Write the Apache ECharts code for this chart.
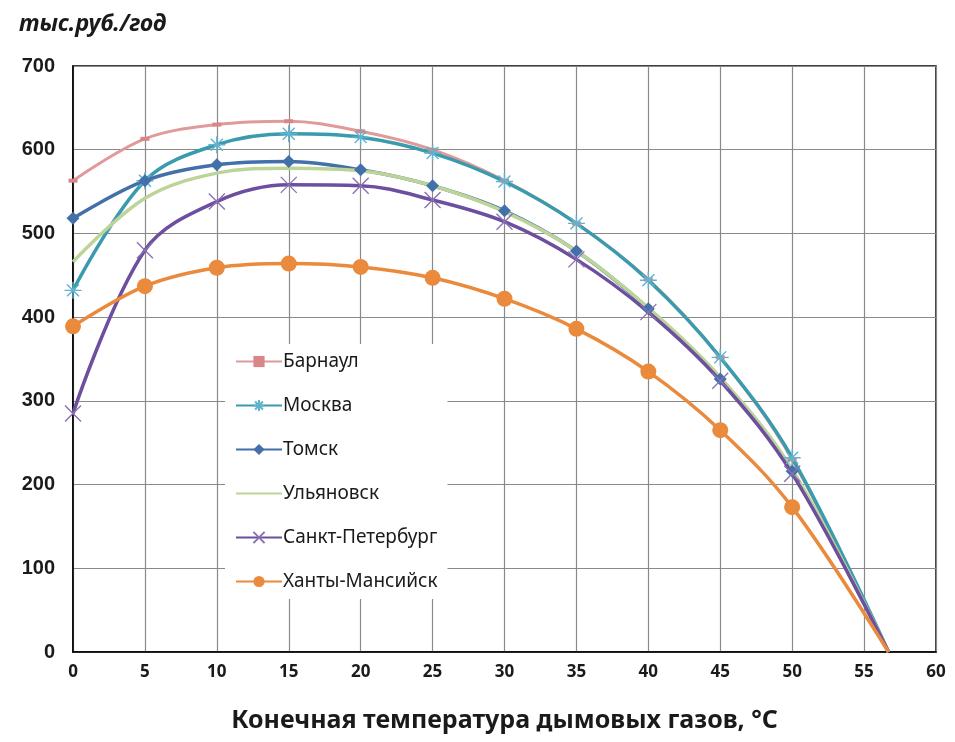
<!DOCTYPE html>
<html>
<head>
<meta charset="utf-8">
<script src="https://cdn.jsdelivr.net/npm/echarts@6/dist/echarts.min.js"></script>
<style>
  html, body { margin: 0; padding: 0; background: #fff; }
  #chart { width: 955px; height: 742px; }
</style>
</head>
<body>
<div id="chart"></div>
<script>
// Final flue-gas temperature, °C
const temps = [0, 5, 10, 15, 20, 25, 30, 35, 40, 45, 50, 56.7];

// Annual effect, thousand roubles per year
const barnaul   = [563, 613, 630, 634, 622, 600, 563, 512, 445, 352, 230, 0];
const moscow    = [432, 563, 606, 619, 615, 596, 562, 512, 444, 352, 232, 0];
const tomsk     = [518, 563, 582, 586, 576, 557, 527, 479, 410, 326, 216, 0];
const ulyanovsk = [466, 542, 572, 578, 575, 557, 526, 479, 411, 328, 218, 0];
const spb       = [285, 480, 538, 558, 557, 540, 514, 469, 406, 324, 213, 0];
const khanty    = [389, 437, 459, 464, 460, 447, 422, 386, 335, 265, 173, 0];

const seriesNames = ['Барнаул', 'Москва', 'Томск', 'Ульяновск', 'Санкт-Петербург', 'Ханты-Мансийск'];
const xTicks = { min: 0, max: 60, step: 5 };
const yTicks = { min: 0, max: 700, step: 100 };

const asterisk = 'path://M10,0 L10,20 M0,10 L20,10 M3,3 L17,17 M17,3 L3,17';
const cross = 'path://M0,0 L20,20 M20,0 L0,20';

function pairs(values) {
  return temps.map((t, i) => {
    const item = { value: [t, values[i]] };
    if (i === temps.length - 1) item.symbol = 'none';
    return item;
  });
}

function lineSeries(name, values, color, symbol, size, itemStyle, width) {
  return {
    name: name,
    type: 'line',
    smooth: 0.35,
    data: pairs(values),
    symbol: symbol,
    symbolSize: size,
    showSymbol: symbol !== 'none',
    lineStyle: { color: color, width: width || 3.5 },
    itemStyle: itemStyle,
    emphasis: { disabled: true },
    animation: false
  };
}

// Legend entries; the plain green line has no marker
const legendItems = seriesNames.map(n => {
  if (n === 'Ульяновск') return { name: n, itemStyle: { opacity: 0 } };
  return { name: n };
});

const chart = echarts.init(document.getElementById('chart'), null, { renderer: 'canvas' });

chart.setOption({
  backgroundColor: '#ffffff',
  title: {
    text: 'тыс.руб./год',
    left: 14,
    top: 8,
    textStyle: {
      fontFamily: 'Noto Sans',
      fontStyle: 'italic',
      fontWeight: 'bold',
      fontSize: 23,
      color: '#1a1a1a'
    }
  },
  grid: {
    left: 73,
    right: 19,
    top: 66,
    bottom: 90,
    show: true,
    borderColor: '#000',
    borderWidth: 1.5,
    containLabel: false
  },
  legend: {
    orient: 'vertical',
    left: 225,
    top: 344,
    data: legendItems,
    itemWidth: 46,
    itemHeight: 14,
    itemGap: 25,
    backgroundColor: '#ffffff',
    padding: [8, 10, 8, 10],
    textStyle: { fontFamily: 'Noto Sans', fontSize: 19, color: '#1a1a1a', padding: [0, 0, 0, -4] }
  },
  xAxis: {
    type: 'value',
    min: xTicks.min,
    max: xTicks.max,
    interval: xTicks.step,
    name: 'Конечная температура дымовых газов, °C',
    nameLocation: 'middle',
    nameGap: 56,
    nameTextStyle: { fontFamily: 'Noto Sans', fontWeight: 'bold', fontSize: 25, color: '#1a1a1a' },
    axisLine: { show: true, lineStyle: { color: '#000', width: 1.5 } },
    axisTick: { show: false },
    axisLabel: { margin: 12, fontFamily: 'Noto Sans', fontWeight: 'bold', fontSize: 17, color: '#1a1a1a' },
    splitLine: { show: true, lineStyle: { color: '#8a8a8a', width: 1.2 } }
  },
  yAxis: {
    type: 'value',
    min: yTicks.min,
    max: yTicks.max,
    interval: yTicks.step,
    axisLine: { show: true, lineStyle: { color: '#000', width: 1.5 } },
    axisTick: { show: false },
    axisLabel: { margin: 18, fontFamily: 'Liberation Sans', fontWeight: 'bold', fontSize: 20, color: '#1a1a1a' },
    splitLine: { show: true, lineStyle: { color: '#8a8a8a', width: 1.2 } }
  },
  series: [
    lineSeries(seriesNames[0], barnaul, '#e09a9a', 'rect', [9, 4],
      { color: '#d88688' }, 3),
    lineSeries(seriesNames[1], moscow, '#3a9aae', asterisk, 17,
      { color: 'rgba(0,0,0,0)', borderColor: '#5fb3cf', borderWidth: 1.4 }),
    lineSeries(seriesNames[2], tomsk, '#4370a8', 'diamond', 13,
      { color: '#4370a8' }),
    lineSeries(seriesNames[3], ulyanovsk, '#bcd498', 'none', 0,
      { color: '#bcd498' }),
    lineSeries(seriesNames[4], spb, '#6c4f9e', cross, 16,
      { color: 'rgba(0,0,0,0)', borderColor: '#8a70b5', borderWidth: 1.4 }),
    lineSeries(seriesNames[5], khanty, '#ea8a3c', 'circle', 16,
      { color: '#ea8a3c' })
  ]
});
</script>
</body>
</html>
